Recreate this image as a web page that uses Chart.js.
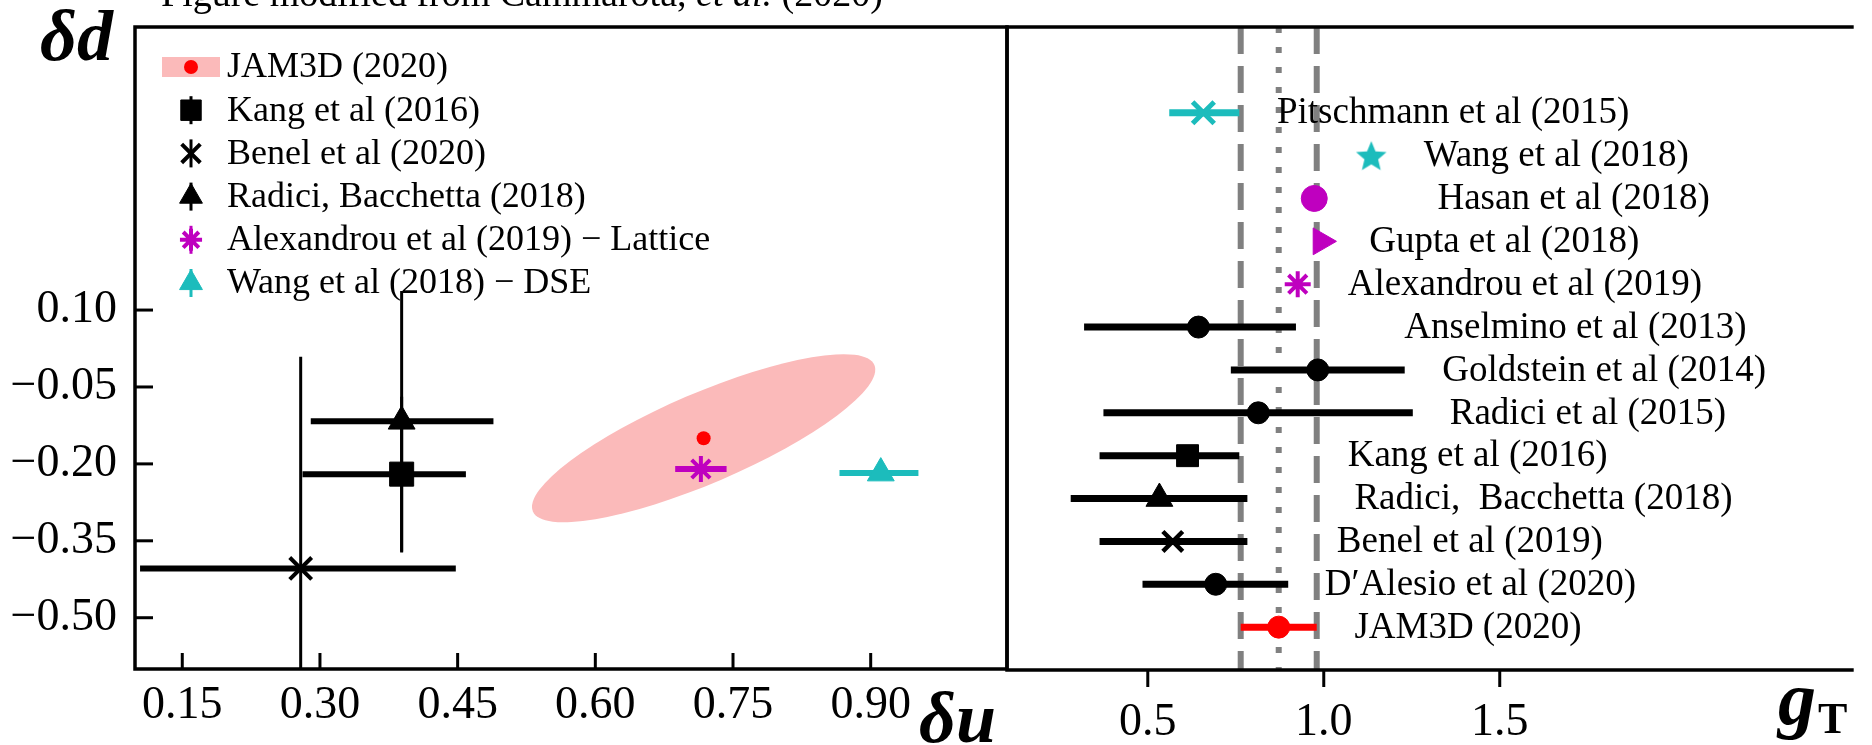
<!DOCTYPE html>
<html>
<head>
<meta charset="utf-8">
<script src="https://cdn.jsdelivr.net/npm/chart.js@4/dist/chart.umd.min.js"></script>
<style>
  html, body { margin: 0; padding: 0; background: #fff; }
  #wrap { position: relative; width: 1872px; height: 745px; overflow: hidden; }
  #wrap canvas { position: absolute; left: 0; top: 0; }
</style>
</head>
<body>
<div id="wrap">
  <canvas id="leftChart" width="1872" height="745"></canvas>
  <canvas id="rightChart" width="1872" height="745"></canvas>
</div>
<script>
// left panel: delta u vs delta d
const leftNames = ["JAM3D (2020)", "Kang et al (2016)", "Benel et al (2020)", "Radici, Bacchetta (2018)",
  "Alexandrou et al (2019) \u2212 Lattice", "Wang et al (2018) \u2212 DSE"];
const deltaU = [0.718, 0.389, 0.279, 0.389, 0.715, 0.911];
const deltaD = [-0.150, -0.220, -0.404, -0.117, -0.210, -0.218];
const deltaULow = [null, 0.281, 0.104, 0.290, 0.687, 0.866];
const deltaUHigh = [null, 0.459, 0.448, 0.489, 0.743, 0.952];
const deltaDLow = [null, -0.371, -0.817, -0.373, null, null];
const deltaDHigh = [null, -0.069, 0.009, 0.137, null, null];
// JAM3D 1-sigma region
const jamSigmaU = 0.187;
const jamSigmaD = 0.164;
const jamCorr = 0.815;
const duTicks = [0.15, 0.30, 0.45, 0.60, 0.75, 0.90];
const ddTicks = [0.10, -0.05, -0.20, -0.35, -0.50];

// right panel: tensor charge gT
const gtNames = ["Pitschmann et al (2015)", "Wang et al (2018)", "Hasan et al (2018)", "Gupta et al (2018)",
  "Alexandrou et al (2019)", "Anselmino et al (2013)", "Goldstein et al (2014)", "Radici et al (2015)",
  "Kang et al (2016)", "Radici,  Bacchetta (2018)", "Benel et al (2019)", "D\u2032Alesio et al (2020)", "JAM3D (2020)"];
const gT = [0.658, 1.135, 0.973, 0.992, 0.926, 0.644, 0.983, 0.814, 0.613, 0.533, 0.571, 0.693, 0.872];
const gTLow = [0.561, null, null, null, null, 0.319, 0.736, 0.374, 0.363, 0.281, 0.363, 0.485, 0.764];
const gTHigh = [0.760, null, null, null, null, 0.921, 1.230, 1.253, 0.760, 0.783, 0.783, 0.899, 0.980];
const gtTicks = [0.5, 1.0, 1.5];

// styling
const serif = '"Liberation Serif", "Times New Roman", Tinos, serif';
const cyan = "#1cbcbc", magenta = "#bf00bf", red = "#ff0000", black = "#000000";

function makeStar(color, R) {
  const c = document.createElement("canvas");
  const s = Math.ceil(2 * R + 2);
  c.width = s; c.height = s;
  const g = c.getContext("2d");
  g.fillStyle = color;
  g.beginPath();
  for (let k = 0; k < 10; k++) {
    const r = k % 2 ? R * 0.45 : R;
    const a = -Math.PI / 2 + k * Math.PI / 5;
    g.lineTo(s / 2 + r * Math.cos(a), s / 2 + 1.5 + r * Math.sin(a));
  }
  g.closePath();
  g.fill();
  return c;
}

const leftColors = [red, black, black, black, magenta, cyan];
const leftMarkers = ["circle", "rect", "crossRot", "triangle", "star", "triangle"];
const leftSizes = [7, 17, 15.5, 15.5, 13, 15.5];
const leftStrokes = [0, 1, 4, 1, 4, 1];

const gtColors = [cyan, cyan, magenta, magenta, magenta, black, black, black, black, black, black, black, red];
const gtMarkers = ["crossRot", makeStar(cyan, 16), "circle", "triangle", "star", "circle", "circle",
  "circle", "rect", "triangle", "crossRot", "circle", "circle"];
const gtSizes = [15.3, 16, 13, 15.5, 13, 11, 11, 11, 15.5, 15.5, 14, 11, 11];
const gtStrokes = [5, 0, 1, 1, 4, 1, 1, 1, 1, 1, 4.5, 1, 1];
const gtRotation = [0, 0, 0, 90, 0, 0, 0, 0, 0, 0, 0, 0, 0];
const gtLabelX = [0.867, 1.284, 1.323, 1.129, 1.068, 1.229, 1.337, 1.358, 1.068, 1.087, 1.037, 1.003, 1.087];

function fmtTick(v, d) {
  const s = Math.abs(v).toFixed(d);
  return v < -1e-9 ? "\u2212" + s : s;
}

function drawMarker(ctx, style, radius, stroke, rot, x, y) {
  if (Chart.helpers && Chart.helpers.drawPoint) {
    Chart.helpers.drawPoint(ctx, { pointStyle: style, radius: radius, borderWidth: stroke, rotation: rot }, x, y);
  } else {
    ctx.beginPath(); ctx.arc(x, y, radius, 0, 2 * Math.PI); ctx.fill();
  }
}

function noPad(s) {
  s.paddingTop = 0; s.paddingBottom = 0; s.paddingLeft = 0; s.paddingRight = 0;
}

// ---------- left chart plugins ----------
const jamRegion = {
  id: "jamRegion",
  beforeDatasetsDraw(chart) {
    const { ctx, scales: { x, y } } = chart;
    const cx = x.getPixelForValue(deltaU[0]), cy = y.getPixelForValue(deltaD[0]);
    const sx = Math.abs(x.getPixelForValue(deltaU[0] + jamSigmaU) - cx);
    const sy = Math.abs(y.getPixelForValue(deltaD[0] + jamSigmaD) - cy);
    const cov = -jamCorr * sx * sy;
    const tr = sx * sx + sy * sy, det = sx * sx * sy * sy * (1 - jamCorr * jamCorr);
    const disc = Math.sqrt(tr * tr / 4 - det);
    const a = Math.sqrt(tr / 2 + disc), b = Math.sqrt(tr / 2 - disc);
    const ang = 0.5 * Math.atan2(2 * cov, sx * sx - sy * sy);
    ctx.save();
    ctx.fillStyle = "#fbbaba";
    ctx.beginPath();
    ctx.ellipse(cx, cy, a, b, ang, 0, 2 * Math.PI);
    ctx.fill();
    ctx.restore();
  }
};

const leftErrorBars = {
  id: "leftErrorBars",
  beforeDatasetsDraw(chart) {
    const { ctx, chartArea: area, scales: { x, y } } = chart;
    ctx.save();
    ctx.beginPath();
    ctx.rect(area.left, area.top, area.width, area.height);
    ctx.clip();
    leftNames.forEach((_, i) => {
      ctx.strokeStyle = leftColors[i];
      const px = x.getPixelForValue(deltaU[i]), py = y.getPixelForValue(deltaD[i]);
      if (deltaULow[i] !== null) {
        ctx.lineWidth = 6;
        ctx.beginPath();
        ctx.moveTo(x.getPixelForValue(deltaULow[i]), py);
        ctx.lineTo(x.getPixelForValue(deltaUHigh[i]), py);
        ctx.stroke();
      }
      if (deltaDLow[i] !== null) {
        ctx.lineWidth = 3;
        ctx.beginPath();
        ctx.moveTo(px, y.getPixelForValue(deltaDLow[i]));
        ctx.lineTo(px, y.getPixelForValue(deltaDHigh[i]));
        ctx.stroke();
      }
    });
    ctx.restore();
  }
};

const leftFrame = {
  id: "leftFrame",
  afterDraw(chart) {
    const { ctx, chartArea: a, scales: { x, y } } = chart;
    ctx.save();
    ctx.strokeStyle = "#000";
    ctx.lineWidth = 3.5;
    ctx.strokeRect(a.left, a.top, a.right - a.left, a.bottom - a.top);
    ctx.lineWidth = 3;
    duTicks.forEach(v => {
      const px = x.getPixelForValue(v);
      ctx.beginPath(); ctx.moveTo(px, a.bottom); ctx.lineTo(px, a.bottom - 16); ctx.stroke();
    });
    ddTicks.forEach(v => {
      const py = y.getPixelForValue(v);
      ctx.beginPath(); ctx.moveTo(a.left, py); ctx.lineTo(a.left + 18, py); ctx.stroke();
    });

    // legend
    const mx = 191, tx = 227;
    ctx.textBaseline = "middle";
    ctx.textAlign = "left";
    ctx.font = "36px " + serif;
    leftNames.forEach((name, i) => {
      const ly = a.top + 40 + i * 43.2;
      if (i === 0) {
        ctx.fillStyle = "#fbbaba";
        ctx.fillRect(162, ly - 10, 58, 20);
        ctx.fillStyle = red;
        ctx.beginPath(); ctx.arc(mx, ly, 7, 0, 2 * Math.PI); ctx.fill();
      } else {
        ctx.strokeStyle = leftColors[i];
        ctx.fillStyle = leftColors[i];
        ctx.lineWidth = 3;
        ctx.beginPath(); ctx.moveTo(mx, ly - 14); ctx.lineTo(mx, ly + 14); ctx.stroke();
        ctx.lineWidth = leftStrokes[i];
        drawMarker(ctx, leftMarkers[i], leftSizes[i] * 0.85, leftStrokes[i], 0, mx, ly);
      }
      ctx.fillStyle = "#000";
      ctx.fillText(name, tx, ly + 1);
    });

    // axis titles
    ctx.textBaseline = "alphabetic";
    ctx.font = "italic bold 72px " + serif;
    ctx.fillText("\u03b4d", 40, 60);
    ctx.fillText("\u03b4u", 919, 742);

    // caption, cut off at the top edge
    let cxp = 161;
    const parts = [["Figure modified from Cammarota, ", ""], ["et al.", "italic "], [" (2020)", ""]];
    parts.forEach(([t, st]) => {
      ctx.font = st + "38px " + serif;
      ctx.fillText(t, cxp, 6);
      cxp += ctx.measureText(t).width;
    });
    ctx.restore();
  }
};

// ---------- right chart plugins ----------
const gtBand = {
  id: "gtBand",
  beforeDatasetsDraw(chart) {
    const { ctx, chartArea: a, scales: { x } } = chart;
    const last = gT.length - 1;
    ctx.save();
    ctx.strokeStyle = "#808080";
    ctx.lineWidth = 6;
    [[gTLow[last], [27, 12]], [gT[last], [6, 14]], [gTHigh[last], [27, 12]]].forEach(([v, dash]) => {
      const px = x.getPixelForValue(v);
      ctx.setLineDash(dash);
      ctx.beginPath(); ctx.moveTo(px, a.top); ctx.lineTo(px, a.bottom); ctx.stroke();
    });
    ctx.restore();
  }
};

const gtErrorBars = {
  id: "gtErrorBars",
  beforeDatasetsDraw(chart) {
    const { ctx, scales: { x, y } } = chart;
    ctx.save();
    ctx.lineWidth = 7;
    gT.forEach((v, i) => {
      if (gTLow[i] === null) return;
      const py = y.getPixelForValue(i);
      ctx.strokeStyle = gtColors[i];
      ctx.beginPath();
      ctx.moveTo(x.getPixelForValue(gTLow[i]), py);
      ctx.lineTo(x.getPixelForValue(gTHigh[i]), py);
      ctx.stroke();
    });
    ctx.restore();
  }
};

const gtFrame = {
  id: "gtFrame",
  afterDraw(chart) {
    const { ctx, chartArea: a, scales: { x, y } } = chart;
    ctx.save();
    ctx.strokeStyle = "#000";
    ctx.lineWidth = 3.5;
    ctx.beginPath();
    ctx.moveTo(a.right + 2, a.top); ctx.lineTo(a.left, a.top);
    ctx.lineTo(a.left, a.bottom); ctx.lineTo(a.right + 2, a.bottom);
    ctx.stroke();
    ctx.lineWidth = 3;
    gtTicks.forEach(v => {
      const px = x.getPixelForValue(v);
      ctx.beginPath(); ctx.moveTo(px, a.bottom); ctx.lineTo(px, a.bottom + 17); ctx.stroke();
    });

    ctx.fillStyle = "#000";
    ctx.textAlign = "left";
    ctx.textBaseline = "middle";
    ctx.font = "37px " + serif;
    gtNames.forEach((name, i) => {
      ctx.fillText(name, x.getPixelForValue(gtLabelX[i]), y.getPixelForValue(i) + 1);
    });

    ctx.textBaseline = "alphabetic";
    ctx.font = "italic bold 76px " + serif;
    ctx.fillText("g", 1778, 724);
    ctx.font = "bold 44px " + serif;
    ctx.fillText("T", 1818, 733);
    ctx.restore();
  }
};

function drawCharts() {
  new Chart(document.getElementById("leftChart"), {
    type: "scatter",
    data: {
      datasets: leftNames.map((name, i) => ({
        label: name,
        data: [{ x: deltaU[i], y: deltaD[i] }],
        pointStyle: leftMarkers[i],
        pointRadius: leftSizes[i],
        backgroundColor: leftColors[i],
        borderColor: leftColors[i],
        borderWidth: leftStrokes[i]
      }))
    },
    options: {
      responsive: false,
      animation: false,
      devicePixelRatio: 1,
      events: [],
      layout: { padding: { left: 0, top: 27, right: 865, bottom: 0 } },
      plugins: { legend: { display: false }, tooltip: { enabled: false } },
      scales: {
        x: {
          type: "linear", min: 0.0985, max: 1.0485,
          afterBuildTicks: s => { s.ticks = duTicks.map(v => ({ value: v })); },
          afterFit: s => { s.height = 76; noPad(s); },
          grid: { display: false, drawTicks: false },
          border: { display: false },
          ticks: { padding: 9, autoSkip: false, maxRotation: 0, color: "#000",
            font: { family: serif, size: 46 }, callback: v => fmtTick(v, 2) }
        },
        y: {
          type: "linear", min: -0.60, max: 0.652,
          afterBuildTicks: s => { s.ticks = ddTicks.map(v => ({ value: v })); },
          afterFit: s => { s.width = 135; noPad(s); },
          grid: { display: false, drawTicks: false },
          border: { display: false },
          ticks: { padding: 18, autoSkip: false, color: "#000",
            font: { family: serif, size: 46 }, callback: v => fmtTick(v, 2) }
        }
      }
    },
    plugins: [jamRegion, leftErrorBars, leftFrame]
  });

  new Chart(document.getElementById("rightChart"), {
    type: "scatter",
    data: {
      datasets: [{
        label: "gT",
        data: gT.map((v, i) => ({ x: v, y: i })),
        pointStyle: gtMarkers,
        pointRadius: gtSizes,
        pointRotation: gtRotation,
        backgroundColor: gtColors,
        borderColor: gtColors,
        borderWidth: gtStrokes
      }]
    },
    options: {
      responsive: false,
      animation: false,
      devicePixelRatio: 1,
      events: [],
      layout: { padding: { left: 1007, top: 27, right: 0, bottom: 0 } },
      plugins: { legend: { display: false }, tooltip: { enabled: false } },
      scales: {
        x: {
          type: "linear", min: 0.1, max: 2.5,
          afterBuildTicks: s => { s.ticks = gtTicks.map(v => ({ value: v })); },
          afterFit: s => { s.height = 75; noPad(s); },
          grid: { display: false, drawTicks: false },
          border: { display: false },
          ticks: { padding: 25, autoSkip: false, maxRotation: 0, color: "#000",
            font: { family: serif, size: 46 }, callback: v => v.toFixed(1) }
        },
        y: { type: "linear", min: -2, max: 13, reverse: true, display: false }
      }
    },
    plugins: [gtBand, gtErrorBars, gtFrame]
  });
}

const fontSpecs = ['36px "Liberation Serif"', 'italic 38px "Liberation Serif"',
  'italic bold 72px "Liberation Serif"', 'bold 44px "Liberation Serif"'];
Promise.all(fontSpecs.map(f => document.fonts.load(f))).catch(() => {}).then(drawCharts);
</script>
</body>
</html>
